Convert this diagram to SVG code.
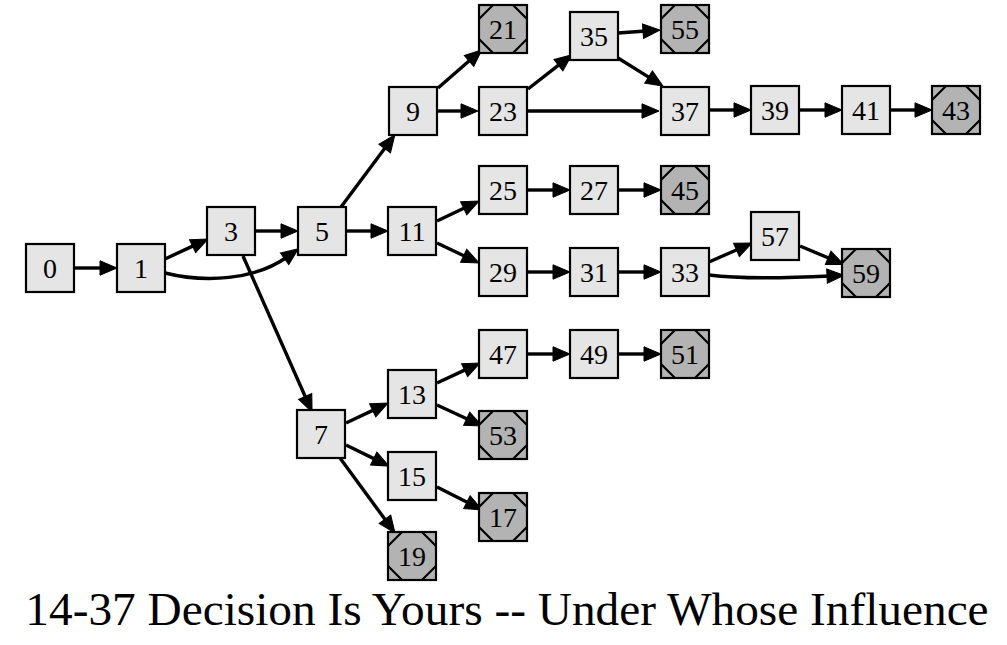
<svg xmlns="http://www.w3.org/2000/svg" width="1007" height="645" viewBox="0 0 1007 645">
<style>
.n rect{fill:#e5e5e5;stroke:#000;stroke-width:2.2}
.t rect{fill:#b3b3b3;stroke:#000;stroke-width:2.2}
.t path{fill:none;stroke:#000;stroke-width:2.2}
text{font-family:"Liberation Serif","Times New Roman",serif;font-size:28px;text-anchor:middle;fill:#000}
#edges path{fill:none;stroke:#000;stroke-width:3.4;marker-end:url(#ah)}
.title{font-size:47.3px}
</style>
<defs>
<marker id="ah" markerUnits="userSpaceOnUse" viewBox="-3 -9 18 18" markerWidth="18" markerHeight="18" refX="0" refY="0" orient="auto" overflow="visible">
<path d="M-3,-7.2 L14,0 L-3,7.2 z" fill="#000" stroke="#000" stroke-width="1"/>
</marker>
</defs>
<rect width="1007" height="645" fill="#fff"/>
<g id="edges">
<path d="M74,268 L103,268"/>
<path d="M165,259 L195.3,244.9"/>
<path d="M165,273 C205,283 255,280 287,257"/>
<path d="M256,231 L284,231"/>
<path d="M243,256 L306.4,399.2"/>
<path d="M341,207 L386.5,146.1"/>
<path d="M347,231 L374,231"/>
<path d="M438,88 L471.3,59"/>
<path d="M438,111 L464,111"/>
<path d="M528,89 L560.8,63.4"/>
<path d="M528,111 L645,111"/>
<path d="M618,33 L646,31"/>
<path d="M618,58 L651.1,78.6"/>
<path d="M710,110 L737,110"/>
<path d="M800,110 L828,110"/>
<path d="M890,110 L918,110"/>
<path d="M437,221 L466.4,207"/>
<path d="M437,243 L466.4,257"/>
<path d="M528,190 L556,190"/>
<path d="M618,190 L647,190"/>
<path d="M528,272 L556,272"/>
<path d="M618,272 L647,272"/>
<path d="M709,262 L739.2,248.7"/>
<path d="M709,275 C740,279 790,278 830,276"/>
<path d="M800,246 L830.9,259"/>
<path d="M346,423 L375.4,409.1"/>
<path d="M346,445 L376.4,459.9"/>
<path d="M340,458 L386.7,521.7"/>
<path d="M437,383 L467.3,368.9"/>
<path d="M437,405 L469.4,420"/>
<path d="M437,487 L469.6,503.5"/>
<path d="M528,354 L556,354"/>
<path d="M618,354 L647,354"/>
</g>
<g id="node0" class="n"><rect x="26" y="244" width="48" height="48"/><text x="50" y="277.5">0</text></g>
<g id="node1" class="n"><rect x="117" y="244" width="48" height="48"/><text x="141" y="277.5">1</text></g>
<g id="node3" class="n"><rect x="207" y="207" width="48" height="48"/><text x="231" y="240.5">3</text></g>
<g id="node5" class="n"><rect x="298" y="207" width="48" height="48"/><text x="322" y="240.5">5</text></g>
<g id="node9" class="n"><rect x="389" y="87" width="48" height="48"/><text x="413" y="120.5">9</text></g>
<g id="node11" class="n"><rect x="388" y="207" width="48" height="48"/><text x="412" y="240.5">11</text></g>
<g id="node7" class="n"><rect x="297" y="410" width="48" height="48"/><text x="321" y="443.5">7</text></g>
<g id="node21" class="t"><rect x="479" y="5" width="48" height="48"/><path d="M479,19 L493,5 M513,5 L527,19 M527,39 L513,53 M493,53 L479,39"/><text x="503" y="38.5">21</text></g>
<g id="node23" class="n"><rect x="479" y="87" width="48" height="48"/><text x="503" y="120.5">23</text></g>
<g id="node35" class="n"><rect x="570" y="12" width="48" height="48"/><text x="594" y="45.5">35</text></g>
<g id="node55" class="t"><rect x="661" y="5" width="48" height="48"/><path d="M661,19 L675,5 M695,5 L709,19 M709,39 L695,53 M675,53 L661,39"/><text x="685" y="38.5">55</text></g>
<g id="node37" class="n"><rect x="661" y="87" width="48" height="48"/><text x="685" y="120.5">37</text></g>
<g id="node39" class="n"><rect x="751" y="86" width="48" height="48"/><text x="775" y="119.5">39</text></g>
<g id="node41" class="n"><rect x="842" y="86" width="48" height="48"/><text x="866" y="119.5">41</text></g>
<g id="node43" class="t"><rect x="932" y="86" width="48" height="48"/><path d="M932,100 L946,86 M966,86 L980,100 M980,120 L966,134 M946,134 L932,120"/><text x="956" y="119.5">43</text></g>
<g id="node25" class="n"><rect x="479" y="166" width="48" height="48"/><text x="503" y="199.5">25</text></g>
<g id="node27" class="n"><rect x="570" y="166" width="48" height="48"/><text x="594" y="199.5">27</text></g>
<g id="node45" class="t"><rect x="661" y="166" width="48" height="48"/><path d="M661,180 L675,166 M695,166 L709,180 M709,200 L695,214 M675,214 L661,200"/><text x="685" y="199.5">45</text></g>
<g id="node29" class="n"><rect x="479" y="248" width="48" height="48"/><text x="503" y="281.5">29</text></g>
<g id="node31" class="n"><rect x="570" y="248" width="48" height="48"/><text x="594" y="281.5">31</text></g>
<g id="node33" class="n"><rect x="661" y="248" width="48" height="48"/><text x="685" y="281.5">33</text></g>
<g id="node57" class="n"><rect x="751" y="212" width="48" height="48"/><text x="775" y="245.5">57</text></g>
<g id="node59" class="t"><rect x="842" y="249" width="48" height="48"/><path d="M842,263 L856,249 M876,249 L890,263 M890,283 L876,297 M856,297 L842,283"/><text x="866" y="282.5">59</text></g>
<g id="node47" class="n"><rect x="479" y="330" width="48" height="48"/><text x="503" y="363.5">47</text></g>
<g id="node49" class="n"><rect x="570" y="330" width="48" height="48"/><text x="594" y="363.5">49</text></g>
<g id="node51" class="t"><rect x="661" y="330" width="48" height="48"/><path d="M661,344 L675,330 M695,330 L709,344 M709,364 L695,378 M675,378 L661,364"/><text x="685" y="363.5">51</text></g>
<g id="node13" class="n"><rect x="388" y="370" width="48" height="48"/><text x="412" y="403.5">13</text></g>
<g id="node53" class="t"><rect x="479" y="411" width="48" height="48"/><path d="M479,425 L493,411 M513,411 L527,425 M527,445 L513,459 M493,459 L479,445"/><text x="503" y="444.5">53</text></g>
<g id="node15" class="n"><rect x="388" y="452" width="48" height="48"/><text x="412" y="485.5">15</text></g>
<g id="node17" class="t"><rect x="479" y="493" width="48" height="48"/><path d="M479,507 L493,493 M513,493 L527,507 M527,527 L513,541 M493,541 L479,527"/><text x="503" y="526.5">17</text></g>
<g id="node19" class="t"><rect x="388" y="532" width="48" height="48"/><path d="M388,546 L402,532 M422,532 L436,546 M436,566 L422,580 M402,580 L388,566"/><text x="412" y="565.5">19</text></g>
<text class="title" x="507" y="625">14-37 Decision Is Yours -- Under Whose Influence</text>
</svg>
